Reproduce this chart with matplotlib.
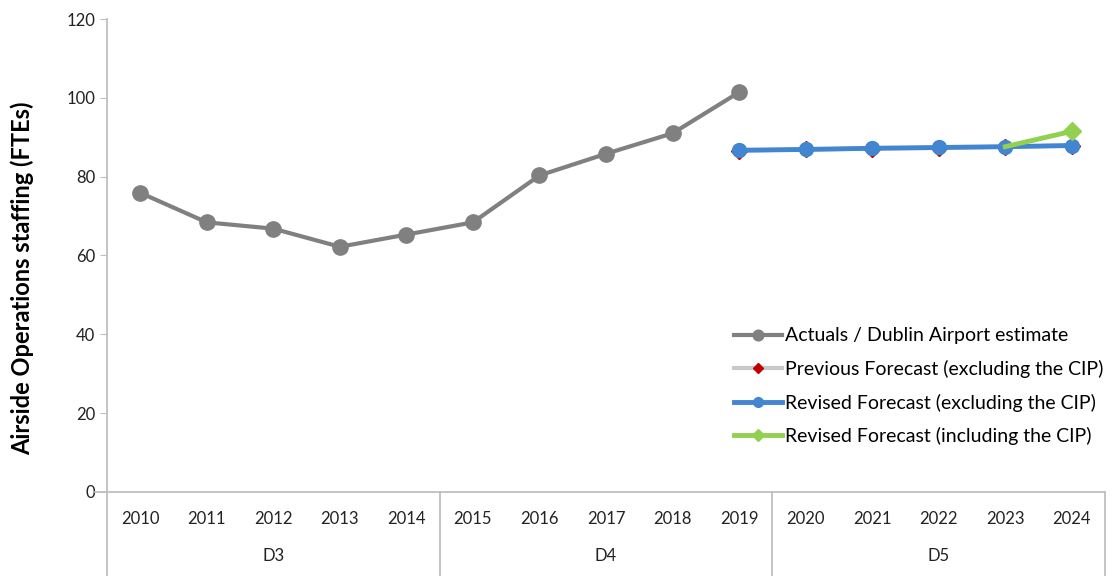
import numpy as np
import matplotlib.pyplot as plt
import matplotlib.transforms as mtransforms

plt.rcParams['font.family'] = ['Lato', 'DejaVu Sans']

years = ['2010', '2011', '2012', '2013', '2014', '2015', '2016', '2017',
         '2018', '2019', '2020', '2021', '2022', '2023', '2024']
groups = ['D3', 'D4', 'D5']
group_size = 5

actuals = [75.9, 68.4, 66.8, 62.2, 65.3, 68.4, 80.3, 85.8, 91.0, 101.4]
# forecasts run 2019-2024
previous_fc = [86.6, 86.9, 87.1, 87.3, 87.6, 87.9]
revised_ex = [86.7, 86.9, 87.2, 87.4, 87.6, 87.9]
# including the CIP, 2023-2024
revised_inc = [87.6, 91.5]

x = np.arange(len(years))
x_act = x[:len(actuals)]
x_fc = x[-len(revised_ex):]
x_inc = x[-len(revised_inc):]

fig = plt.figure(figsize=(11.14, 5.76), dpi=100)
ax = fig.add_axes([0.096, 0.146, 0.896, 0.821])

ax.plot(x_act, actuals, color='#808080', lw=3, marker='o', ms=11,
        label='Actuals / Dublin Airport estimate', zorder=3)
ax.plot(x_fc, previous_fc, color='#c8c8c8', lw=3, marker='D', ms=8,
        mfc='#c00000', mec='#c00000', label='Previous Forecast (excluding the CIP)', zorder=3)
ax.plot(x_fc, revised_ex, color='#4285d0', lw=3.5, marker='o', ms=10,
        label='Revised Forecast (excluding the CIP)', zorder=4)
ax.plot(x_inc, revised_inc, color='#92d050', lw=3.5, marker='D', ms=9,
        markevery=[1], label='Revised Forecast (including the CIP)', zorder=5)

ax.set_xlim(-0.5, len(years) - 0.5)
ax.set_ylim(0, 120)
ax.set_yticks(range(0, 121, 20))
ax.set_xticks(x)
ax.set_xticklabels(years)
ax.tick_params(axis='x', length=0, pad=14, labelsize=12, labelcolor='#222222')
ax.tick_params(axis='y', length=5, color='#bfbfbf', labelsize=12, labelcolor='#222222')

for side in ['top', 'right']:
    ax.spines[side].set_visible(False)
for side in ['left', 'bottom']:
    ax.spines[side].set_color('#bfbfbf')
    ax.spines[side].set_linewidth(1.3)

ax.set_ylabel('Airside Operations staffing (FTEs)', fontsize=17, fontweight='bold')
ax.yaxis.set_label_coords(-0.073, 0.452)

# group labels and dividers under the x axis
trans = mtransforms.blended_transform_factory(ax.transData, ax.transAxes)
for i, g in enumerate(groups):
    centre = i * group_size + (group_size - 1) / 2
    ax.text(centre, -0.135, g, transform=trans, ha='center', va='center',
            fontsize=12, color='#222222')
for b in range(len(groups) + 1):
    xb = b * group_size - 0.5
    ax.plot([xb, xb], [0, -0.205], transform=trans, color='#bfbfbf', lw=1.3,
            clip_on=False)
ax.plot([-0.68, -0.5], [0, 0], transform=trans, color='#bfbfbf', lw=1.3, clip_on=False)

ax.legend(loc='upper left', bbox_to_anchor=(0.628, 0.348), frameon=False,
          fontsize=14, handlelength=2.5, handletextpad=0.15, labelspacing=0.8,
          borderaxespad=0, borderpad=0, markerscale=0.7)

fig.savefig('out.png', dpi=100)
